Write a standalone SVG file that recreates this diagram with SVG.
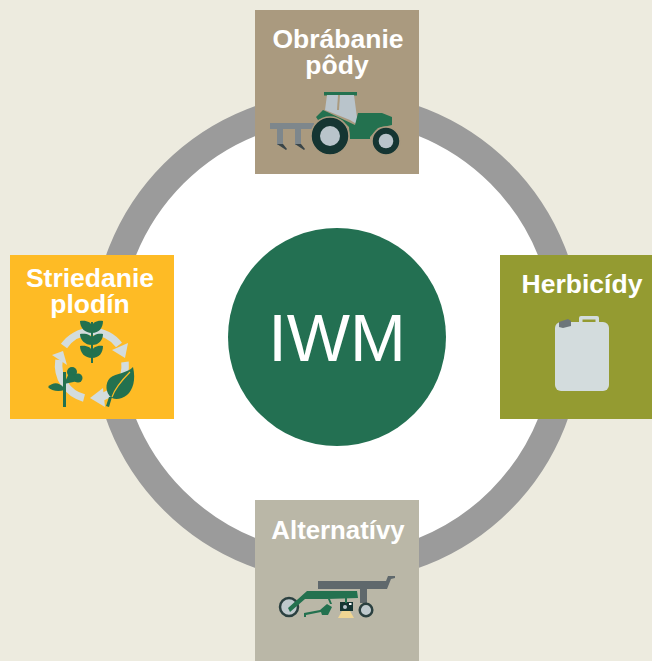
<svg xmlns="http://www.w3.org/2000/svg" width="652" height="661" viewBox="0 0 652 661">
<style>
.t{font-family:"Liberation Sans",Arial,sans-serif;font-weight:700;font-size:26.5px;fill:#fff;text-anchor:middle}
.g{fill:#23714f}.d{fill:#153532}.l{fill:#d3dcdd}.s{fill:#b9c4cb}.m{fill:#5f686c}
.w{stroke:#aa9a7f;stroke-width:1.500}
</style>
<rect width="652" height="661" fill="#edebdf"/>
<g id="connectors"><circle cx="337" cy="337" r="231" fill="#fff" stroke="#9b9b9b" stroke-width="28"/></g>
<g id="center"><circle cx="337" cy="337" r="109" fill="#237052"/>
<text x="337" y="361" font-family="'Liberation Sans',Arial,sans-serif" font-size="67" fill="#fff" text-anchor="middle">IWM</text></g>
<g id="obrabanie"><rect x="255" y="10" width="164" height="164" fill="#aa9a7f"/>
<text class="t"><tspan x="338" y="48">Obrábanie</tspan><tspan x="337" y="74">pôdy</tspan></text>
<rect x="270" y="123" width="44" height="6" fill="#7e878c"/>
<rect x="277" y="129" width="6" height="16" fill="#7e878c"/><rect x="295" y="129" width="6" height="16" fill="#7e878c"/>
<path d="M277 144h6l4 5-1 1zM295 144h6l4 5-1 1z" fill="#3a4548"/>
<rect x="324" y="92" width="33" height="3.500" class="g"/>
<path d="M327 95h27l4 30-8-5-25-10z" class="s"/>
<path d="M338 95h2l-1 15h-2z" fill="#aa9a7f"/>
<path d="M316 117l7-7 32 15 3-12 24 0 10 4v8l-14 3-8 9v2h-20l-1-12-7-7-12-3-12 3z" class="g"/>
<circle cx="330" cy="136" r="19" class="d w"/><circle cx="330" cy="136" r="10" class="s"/>
<circle cx="386" cy="141" r="14" class="d w"/><circle cx="386" cy="141" r="7.300" class="s"/>
</g>
<g id="herbicidy"><rect x="500" y="255" width="152" height="164" fill="#949b31"/>
<text class="t" x="582" y="293">Herbicídy</text>
<path d="M579 323v-5a2 2 0 0 1 2-2h16a2 2 0 0 1 2 2v5h-3.500v-3.500h-13v3.500z" class="l"/>
<rect x="555" y="322" width="54" height="69" rx="6" class="l"/>
<path d="M559 322l9-3 3 2v5l-8 2-4-1z" fill="#6d767b"/>
</g>
<g id="striedanie"><rect x="10" y="255" width="164" height="164" fill="#febb25"/>
<text class="t"><tspan x="90" y="287">Striedanie</tspan><tspan x="90" y="313">plodín</tspan></text>
<g fill="none" stroke="#d3dcdd" stroke-width="7.500"><path d="M64 346A34 34 0 0 1 119 345"/><path d="M125 362A34 34 0 0 1 119 385"/><path d="M84 398A34 34 0 0 1 59 360"/><path d="M100 398L115 391"/></g>
<path d="M112 350l16-7-3 15z" class="l"/><path d="M90 398l13-10 2 19z" class="l"/><path d="M52 355l11-4 4 14z" class="l"/>
<g class="g"><rect x="91" y="322" width="2" height="41"/>
<path d="M92 333C85 333 80 328 80 321C86 320 92 322 92 327C92 322 98 320 103 321C103 328 99 333 92 333zM92 345C85 345 80 340 80 334C86 333 92 335 92 339C92 335 98 333 103 334C103 340 99 345 92 345zM92 358C85 358 80 353 80 346C86 345 92 347 92 352C92 347 98 345 103 346C103 353 99 358 92 358z"/>
<rect x="63" y="372" width="3" height="35"/>
<circle cx="72" cy="372" r="5"/><circle cx="78" cy="378" r="4.500"/><path d="M64 384l6-13 8 10z"/>
<path d="M64 388c-5-6-11-6-16-1 3 4 11 5 16 3z"/>
<path d="M112 398C105 393 105 383 110 378C116 373 128 373 133 367C136 380 133 390 127 395C122 399 116 400 112 398z"/>
<path d="M112 397C115 388 122 380 130 372" fill="none" stroke="#febb25" stroke-width="1.200"/>
<path d="M112 397l-3 10-3-1 3-9z"/></g>
</g>
<g id="alternativy"><rect x="255" y="500" width="164" height="161" fill="#bab7a7"/>
<text class="t" x="338" y="539" style="font-size:25.800px">Alternatívy</text>
<path d="M318 581h68l2-5h7v2l-4 1-4 10h-20v14h-7v-14h-42z" class="m"/>
<circle cx="289" cy="607" r="9" fill="#bfc9cd" stroke="#2b4040" stroke-width="2.500"/>
<circle cx="366" cy="610" r="6.300" fill="#bfc9cd" stroke="#2b4040" stroke-width="2.500"/>
<path d="M307 591h50l1 7-31 1h-22l-15 13-2-4z" class="g"/>
<path d="M304 613l16-3 7-6 5 3-4 8h-6l-1-3-15 3v2h-2z" class="g"/>
<path d="M328 599h2l2 5h-2z" class="g"/>
<rect x="340" y="602" width="13" height="9" class="d"/><circle cx="345" cy="607" r="2" class="s"/><rect x="349" y="603" width="2.500" height="2" fill="#fff"/>
<rect x="345" y="598" width="2" height="5" class="g"/>
<path d="M342 611h8l4 7h-16z" fill="#f0d693"/>
</g>
</svg>
